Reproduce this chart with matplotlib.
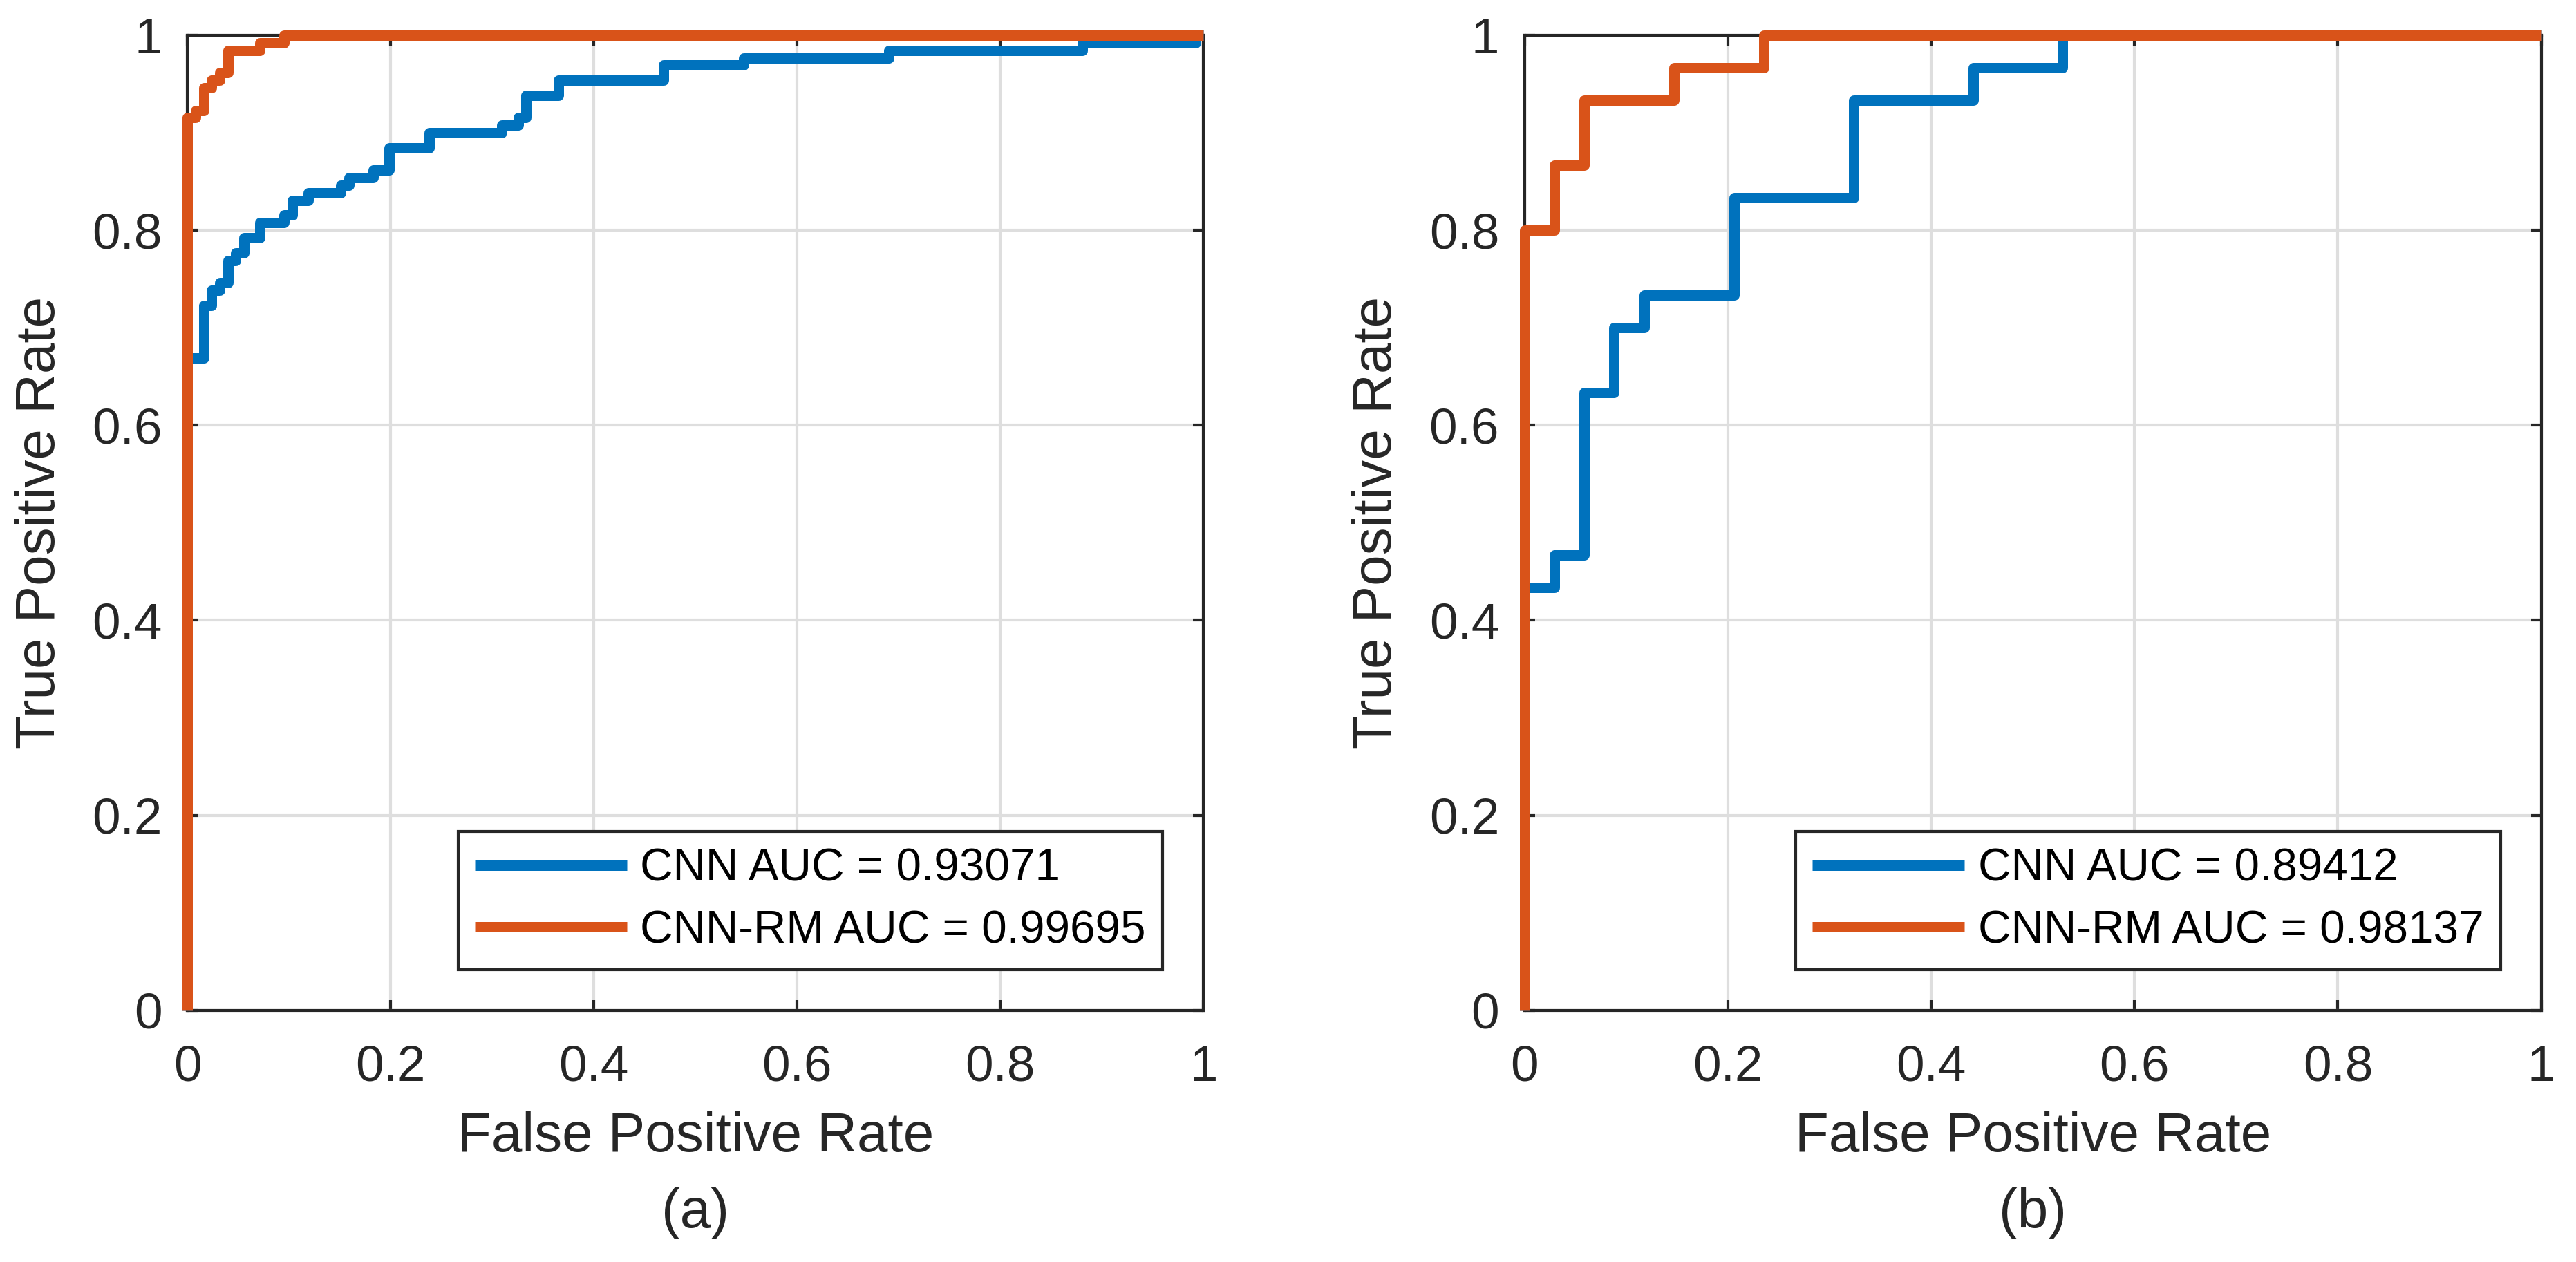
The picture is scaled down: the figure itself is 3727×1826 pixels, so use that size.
import matplotlib
matplotlib.use("Agg")
import matplotlib.pyplot as plt
import numpy as np

plt.rcParams['font.family'] = ['Liberation Sans', 'DejaVu Sans']

# ROC curves, as counts of negatives / positives
# panel (a): 126 negatives, 130 positives
n_neg_a, n_pos_a = 126, 130
cnn_a_fp = [0, 0, 2, 3, 4, 5, 6, 7, 9, 12, 13, 15, 19, 20, 23, 25, 30, 39, 41, 42, 46, 59, 69, 87, 111, 125, 126]
cnn_a_tp = [0, 87, 94, 96, 97, 100, 101, 103, 105, 106, 108, 109, 110, 111, 112, 115, 117, 118, 119, 122, 124, 126, 127, 128, 129, 130, 130]
rm_a_fp = [0, 0, 1, 2, 3, 4, 5, 9, 12, 126]
rm_a_tp = [0, 119, 120, 123, 124, 125, 128, 129, 130, 130]

# panel (b): 34 negatives, 30 positives
n_neg_b, n_pos_b = 34, 30
cnn_b_fp = [0, 0, 1, 2, 3, 4, 7, 11, 15, 18, 34]
cnn_b_tp = [0, 13, 14, 19, 21, 22, 25, 28, 29, 30, 30]
rm_b_fp = [0, 0, 1, 2, 5, 8, 34]
rm_b_tp = [0, 24, 26, 28, 29, 30, 30]

auc_labels_a = ['CNN AUC = 0.93071', 'CNN-RM AUC = 0.99695']
auc_labels_b = ['CNN AUC = 0.89412', 'CNN-RM AUC = 0.98137']
ticks = [0, 0.2, 0.4, 0.6, 0.8, 1]
tick_labels = ['0', '0.2', '0.4', '0.6', '0.8', '1']

blue = '#0072BD'
orange = '#D95319'
dark = '#262626'

W, H = 3728, 1826
fig = plt.figure(figsize=(W / 300, H / 300), dpi=300)
bottom = 1 - 1461.7 / H
height = 1410.7 / H
ax_a = fig.add_axes([271.3 / W, bottom, 1470 / W, height])
ax_b = fig.add_axes([2205.7 / W, bottom, 1471 / W, height])


def draw_panel(ax, fp1, tp1, fp2, tp2, n_neg, n_pos, labels, tag):
    for fp, tp, col, lab in [(fp1, tp1, blue, labels[0]), (fp2, tp2, orange, labels[1])]:
        ax.plot(np.array(fp) / n_neg, np.array(tp) / n_pos, drawstyle='steps-post',
                color=col, lw=3.6, label=lab, clip_on=False, zorder=3,
                solid_joinstyle='round', solid_capstyle='butt')
    ax.set_xlim(0, 1)
    ax.set_ylim(0, 1)
    ax.set_xticks(ticks)
    ax.set_xticklabels(tick_labels)
    ax.set_yticks(ticks)
    ax.set_yticklabels(tick_labels)
    ax.set_axisbelow(True)
    ax.grid(True, color='#DEDEDE', lw=1.0)
    for s in ax.spines.values():
        s.set_color(dark)
        s.set_linewidth(1.0)
    ax.tick_params(direction='in', length=3.6, width=1.0, color=dark,
                   top=True, right=True, labelsize=17.5, labelcolor=dark)
    ax.tick_params(axis='x', pad=12.0)
    ax.tick_params(axis='y', pad=8.8)
    ax.set_xlabel('False Positive Rate', fontsize=19.2, color=dark, labelpad=7)
    ax.set_ylabel('True Positive Rate', fontsize=19.2, color=dark, labelpad=9)
    leg = ax.legend(loc='lower right', fontsize=15.75, frameon=True, fancybox=False,
                    edgecolor=dark, framealpha=1, borderaxespad=0.9,
                    handlelength=3.35, handletextpad=0.3, borderpad=0.37,
                    labelspacing=0.42)
    leg.get_frame().set_linewidth(1.0)
    ax.text(0.5, -0.208, tag, transform=ax.transAxes, ha='center', va='center',
            fontsize=19.2, color=dark)


draw_panel(ax_a, cnn_a_fp, cnn_a_tp, rm_a_fp, rm_a_tp, n_neg_a, n_pos_a, auc_labels_a, '(a)')
draw_panel(ax_b, cnn_b_fp, cnn_b_tp, rm_b_fp, rm_b_tp, n_neg_b, n_pos_b, auc_labels_b, '(b)')

fig.savefig('out.png', dpi=300)
